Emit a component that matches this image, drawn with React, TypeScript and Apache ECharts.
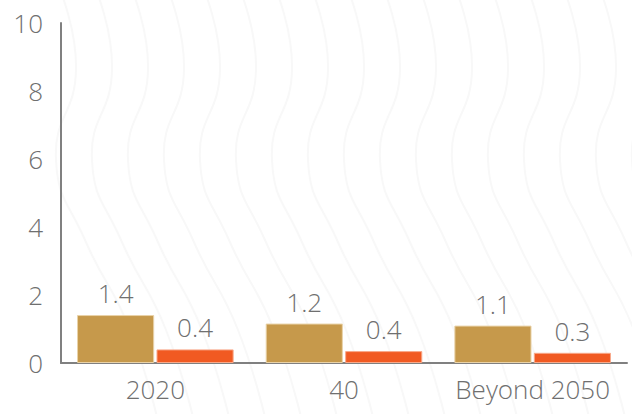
import React, { useEffect, useRef } from "react";
import * as echarts from "echarts";

const categories = ["2020", "40", "Beyond 2050"];
const seriesA = [1.41, 1.16, 1.1];
const seriesB = [0.4, 0.35, 0.3];
const yTicks = [0, 2, 4, 6, 8, 10];

const FONT = "'Open Sans'";
const WEIGHT = 300;
const SIZE = 26;
const GRAY = "#6f6f6f";

function waves() {
  const out: any[] = [];
  for (let i = 0; i < 20; i++) {
    const x0 = 60 + i * 36;
    out.push({
      type: "polyline",
      silent: true,
      z: -10,
      shape: {
        points: [
          [x0, -10],
          [x0 + 16, 70],
          [x0 - 4, 160],
          [x0 + 25, 240],
          [x0 + 70, 330],
          [x0 + 100, 430],
        ],
        smooth: 0.5,
      },
      style: { stroke: "#f8f8f8", lineWidth: 2, fill: null },
    });
  }
  return out;
}

export default function App() {
  const ref = useRef<HTMLDivElement>(null);
  useEffect(() => {
    const chart = echarts.init(ref.current!, undefined, { renderer: "svg" });
    const fmt = (p: any) => (Math.round(p.value * 10) / 10).toFixed(1);
    const txt = { color: GRAY, fontFamily: FONT, fontSize: SIZE, fontWeight: WEIGHT };
    chart.setOption({
      animation: false,
      backgroundColor: "#ffffff",
      graphic: waves(),
      grid: { left: 61, right: 5, top: 23, bottom: 51, containLabel: false },
      xAxis: {
        type: "category",
        data: categories,
        axisLine: { lineStyle: { color: "#808080", width: 2 } },
        axisTick: { show: false },
        axisLabel: { ...txt, interval: 0, margin: 13 },
      },
      yAxis: {
        type: "value",
        min: yTicks[0],
        max: yTicks[yTicks.length - 1],
        interval: 2,
        axisLine: { show: true, lineStyle: { color: "#808080", width: 2 } },
        axisTick: { show: false },
        splitLine: { show: false },
        axisLabel: { ...txt, margin: 18 },
      },
      series: [
        {
          type: "bar",
          data: seriesA,
          barGap: "3%",
          barCategoryGap: "17%",
          itemStyle: { color: "#C6994B", borderColor: "#e9d2a8", borderWidth: 1 },
          label: { show: true, position: "top", distance: 9, ...txt, formatter: fmt },
        },
        {
          type: "bar",
          data: seriesB,
          itemStyle: { color: "#F15A22", borderColor: "#f8a98a", borderWidth: 1 },
          label: { show: true, position: "top", distance: 9, ...txt, formatter: fmt },
        },
      ],
    });
    return () => chart.dispose();
  }, []);
  return <div ref={ref} style={{ width: 632, height: 414, position: "absolute", left: 0, top: 0 }} />;
}
